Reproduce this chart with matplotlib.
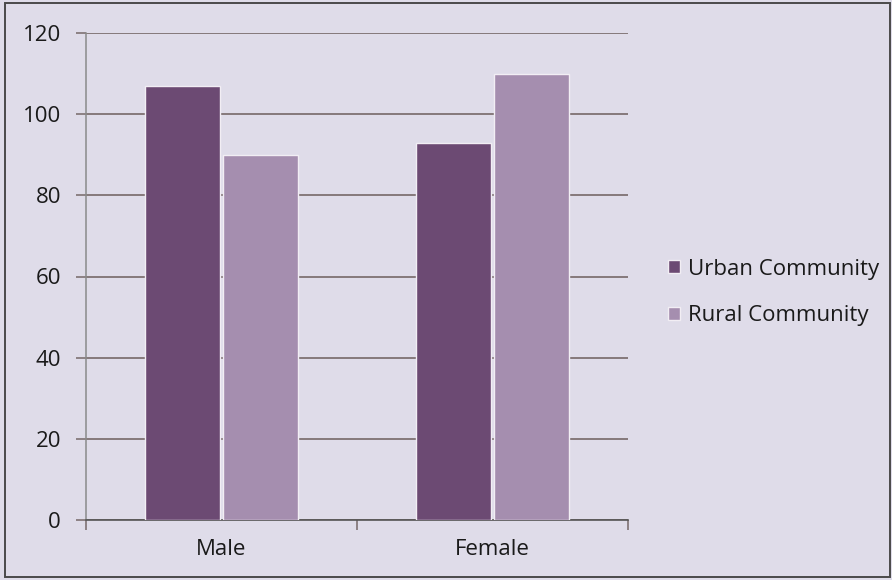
import numpy as np
import matplotlib.pyplot as plt
from matplotlib.patches import Rectangle

# ---- data ----
genders = ["Male", "Female"]
urban = [107, 93]
rural = [90, 110]
series_names = ["Urban Community", "Rural Community"]
y_ticks = [0, 20, 40, 60, 80, 100, 120]

# ---- style ----
W, H = 892, 580
bg = "#dfdce9"
urban_col = "#6c4a73"
rural_col = "#a58eaf"
grid_col = "#766868"
fs = 16
plt.rcParams['font.family'] = ['Open Sans', 'DejaVu Sans']

fig = plt.figure(figsize=(W / 100, H / 100), dpi=100)
fig.patch.set_facecolor(bg)

# outer chart frame
fig.patches.append(Rectangle((5 / W, 3 / H), 885 / W, 574 / H, transform=fig.transFigure,
                             fill=False, edgecolor="#4a4a4a", linewidth=1.4))

ax = fig.add_axes([86 / W, 60 / H, 542 / W, 487 / H])
ax.set_facecolor(bg)

x = np.arange(len(genders))
w = 0.28
ax.bar(x - w / 2 - 0.004, urban, width=w, color=urban_col, edgecolor="#f2eef4",
       linewidth=1.0, label=series_names[0], zorder=3)
ax.bar(x + w / 2 + 0.004, rural, width=w, color=rural_col, edgecolor="#f2eef4",
       linewidth=1.0, label=series_names[1], zorder=3)

ax.set_xlim(-0.5, 1.5)
ax.set_ylim(0, 120)

# y axis
ax.set_yticks(y_ticks)
ax.tick_params(axis='y', direction='out', length=7, width=1.1, color=grid_col,
               labelsize=fs, pad=11, labelcolor="#1a1a1a")
ax.yaxis.grid(True, color=grid_col, linewidth=1.2, zorder=0)
ax.set_axisbelow(True)

# x axis: tick marks at category boundaries, labels at centres
ax.set_xticks([-0.5, 0.5, 1.5])
ax.set_xticklabels([])
ax.set_xticks(x, minor=True)
ax.set_xticklabels(genders, minor=True)
ax.tick_params(axis='x', which='major', direction='out', length=7, width=1.1, color=grid_col)
ax.tick_params(axis='x', which='minor', length=0, labelsize=fs, pad=14, labelcolor="#1a1a1a")

for side in ['top', 'right']:
    ax.spines[side].set_visible(False)
ax.spines['left'].set_color("#8a8a8a")
ax.spines['bottom'].set_color("#555555")
ax.spines['left'].set_linewidth(1.1)
ax.spines['bottom'].set_linewidth(1.2)

fig.legend(loc='center left', bbox_to_anchor=(668 / W, 1 - 292.5 / H), frameon=False,
           borderpad=0, borderaxespad=0, fontsize=fs, handlelength=0.52, handleheight=0.52,
           handletextpad=0.4, labelspacing=1.15, labelcolor="#1a1a1a")

fig.savefig("out.png", dpi=100, facecolor=bg)
